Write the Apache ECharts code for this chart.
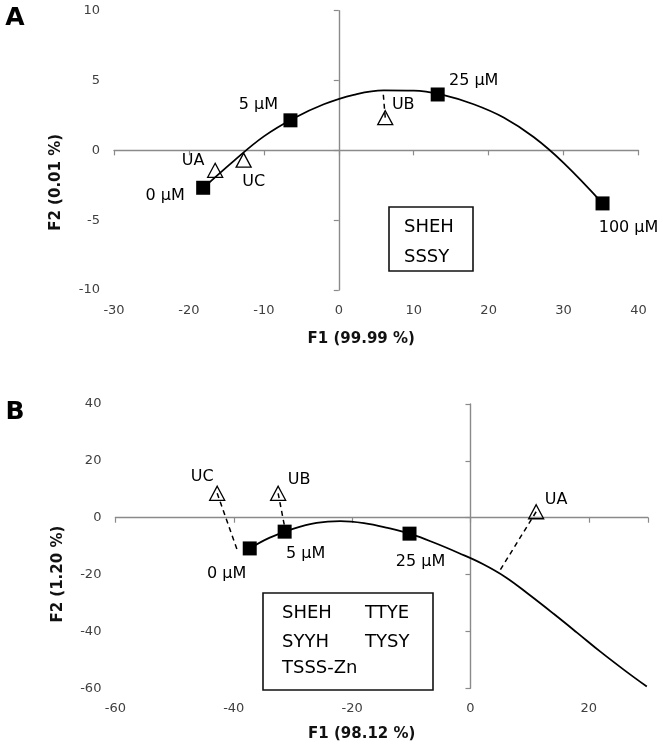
<!DOCTYPE html>
<html>
<head>
<meta charset="utf-8">
<script src="https://cdn.jsdelivr.net/npm/echarts@6/dist/echarts.min.js"></script>
<style>html,body{margin:0;padding:0;background:#fff}#c{width:663px;height:750px}</style>
</head>
<body>
<div id="c"></div>
<script>
// ---------- Panel A data ----------
const aSquareNames = ['0 µM', '5 µM', '25 µM', '100 µM'];
const aSquareX = [-18.1, -6.45, 13.2, 35.2];
const aSquareY = [-2.68, 2.15, 4.0, -3.8];
const aTriNames = ['UA', 'UB', 'UC'];
const aTriX = [-16.5, 6.2, -12.7];
const aTriY = [-1.43, 2.34, -0.7];
const aCurveX = [-18.1, -14, -10, -6, -2, 2, 6, 10, 14, 18, 22, 26, 30, 35.2];
const aCurveY = [-2.7, -0.75, 1.0, 2.3, 3.3, 3.98, 4.3, 4.28, 3.95, 3.3, 2.35, 0.95, -0.9, -3.8];
const aDrops = [[[6.2,2.34],[5.9,4.28]]];
const aLegend = [['SHEH'], ['SSSY']];
const aXTitle = 'F1 (99.99 %)';
const aYTitle = 'F2 (0.01 %)';

// ---------- Panel B data ----------
const bSquareNames = ['0 µM', '5 µM', '25 µM'];
const bSquareX = [-37.3, -31.4, -10.3];
const bSquareY = [-10.8, -4.9, -5.6];
const bTriNames = ['UC', 'UB', 'UA'];
const bTriX = [-42.8, -32.5, 11.1];
const bTriY = [8.6, 8.6, 2.1];
const bCurveX = [-37.3, -34, -30, -26, -22, -18, -14, -10, -6, -2, 2, 6, 10, 14, 18, 22, 26, 29.8];
const bCurveY = [-10.8, -7.1, -3.9, -1.8, -1.2, -1.9, -3.6, -5.8, -8.9, -12.4, -16.2, -21.0, -27.2, -33.7, -40.4, -47.2, -53.6, -59.4];
const bDrops = [[[-42.8,8.6],[-39.3,-12.0]], [[-32.5,8.6],[-31.4,-3.2]], [[11.1,2.1],[4.9,-18.8]]];
const bLegend = [['SHEH','TTYE'], ['SYYH','TYSY'], ['TSSS-Zn']];
const bXTitle = 'F1 (98.12 %)';
const bYTitle = 'F2 (1.20 %)';

// ---------- layout / style ----------
const FONT = 'DejaVu Sans';
const AXIS_COLOR = '#8a8a8a';
const aSquareOffsets = [[-38, 8], [-32, -15], [36, -14], [26, 24]];
const aTriOffsets = [[-22, -9], [18, -13], [10, 22]];
const bSquareOffsets = [[-23, 25], [21, 22], [11, 28]];
const bTriOffsets = [[-15, -16], [21, -13], [20, -12]];

function zip(xs, ys) { return xs.map((x, i) => [x, ys[i]]); }

function pts(xs, ys, names, offs) {
  return xs.map((x, i) => ({
    value: [x, ys[i]], name: names[i],
    label: { show: true, position: 'inside', offset: offs[i], formatter: names[i],
             color: '#000', fontFamily: FONT, fontSize: 16 }
  }));
}

function axesFor(gi, min, max, interval, yIdx, xIdx) {
  return {
    xLine: {
      gridIndex: gi, type: 'value', min: min[0], max: max[0], interval: interval[0], position: 'bottom',
      axisLine: { show: true, onZero: true, onZeroAxisIndex: yIdx, lineStyle: { color: AXIS_COLOR, width: 1.4 } },
      axisTick: { show: true, length: 5, lineStyle: { color: AXIS_COLOR, width: 1.2 } },
      axisLabel: { show: false }, splitLine: { show: false }
    },
    yLine: {
      gridIndex: gi, type: 'value', min: min[1], max: max[1], interval: interval[1], position: 'left',
      axisLine: { show: true, onZero: true, onZeroAxisIndex: xIdx, lineStyle: { color: AXIS_COLOR, width: 1.4 } },
      axisTick: { show: true, length: 5, lineStyle: { color: AXIS_COLOR, width: 1.2 } },
      axisLabel: { show: false }, splitLine: { show: false }
    }
  };
}

function labelXAxis(gi, min, max, interval, name, gap, pad) {
  return {
    gridIndex: gi, type: 'value', min, max, interval, position: 'bottom',
    axisLine: { show: false, onZero: false }, axisTick: { show: false }, splitLine: { show: false },
    axisLabel: { show: true, margin: 14, color: '#404040', fontFamily: FONT, fontSize: 13, showMaxLabel: max % interval === 0 },
    name, nameLocation: 'middle', nameGap: gap,
    nameTextStyle: { fontFamily: FONT, fontWeight: 'bold', fontSize: 15, color: '#111', padding: pad }
  };
}
function labelYAxis(gi, min, max, interval, name, gap, pad) {
  return {
    gridIndex: gi, type: 'value', min, max, interval, position: 'left',
    axisLine: { show: false, onZero: false }, axisTick: { show: false }, splitLine: { show: false },
    axisLabel: { show: true, margin: 14, color: '#404040', fontFamily: FONT, fontSize: 13 },
    name, nameLocation: 'middle', nameGap: gap,
    nameTextStyle: { fontFamily: FONT, fontWeight: 'bold', fontSize: 15, color: '#111', padding: pad }
  };
}

const A = axesFor(0, [-30, -10], [40, 10], [10, 5], 0, 0);
const B = axesFor(1, [-60, -60], [30, 40], [20, 20], 2, 2);

const xAxis = [A.xLine, labelXAxis(0, -30, 40, 10, aXTitle, 42, [0, 30, 0, 0]),
               B.xLine, labelXAxis(1, -60, 30, 20, bXTitle, 38, [0, 40, 0, 0])];
const yAxis = [A.yLine, labelYAxis(0, -10, 10, 5, aYTitle, 50, [0, 64, 0, 0]),
               B.yLine, labelYAxis(1, -60, 40, 20, bYTitle, 50, [0, 56, 0, 0])];

function panelSeries(xi, yi, curve, drops, sx, sy, sn, so, tx, ty, tn, to) {
  const s = [];
  s.push({ type: 'line', xAxisIndex: xi, yAxisIndex: yi, data: curve, smooth: 0.4, symbol: 'none',
           lineStyle: { color: '#000', width: 1.8 }, z: 2 });
  drops.forEach(d => s.push({ type: 'line', xAxisIndex: xi, yAxisIndex: yi, data: d, symbol: 'none',
           lineStyle: { color: '#000', width: 1.5, type: [5, 4] }, z: 2 }));
  s.push({ type: 'scatter', xAxisIndex: xi, yAxisIndex: yi, symbol: 'rect', symbolSize: 14,
           itemStyle: { color: '#000', opacity: 1 }, data: pts(sx, sy, sn, so), z: 4 });
  s.push({ type: 'scatter', xAxisIndex: xi, yAxisIndex: yi, symbol: 'triangle', symbolSize: [15, 14],
           itemStyle: { color: 'rgba(0,0,0,0)', borderColor: '#000', borderWidth: 1.3, opacity: 1 },
           data: pts(tx, ty, tn, to), z: 4 });
  return s;
}

const series = [
  ...panelSeries(0, 0, zip(aCurveX, aCurveY), aDrops, aSquareX, aSquareY, aSquareNames, aSquareOffsets, aTriX, aTriY, aTriNames, aTriOffsets),
  ...panelSeries(2, 2, zip(bCurveX, bCurveY), bDrops, bSquareX, bSquareY, bSquareNames, bSquareOffsets, bTriX, bTriY, bTriNames, bTriOffsets)
];

function legendBox(x, y, w, h, rows, textX, rowY, colX) {
  const children = [{ type: 'rect', shape: { x, y, width: w, height: h },
                      style: { fill: '#fff', stroke: '#111', lineWidth: 1.6 } }];
  rows.forEach((row, r) => row.forEach((t, c) => children.push({
    type: 'text', x: textX + c * colX, y: rowY[r],
    style: { text: t, fill: '#000', font: '18px "' + FONT + '"', textAlign: 'left', textVerticalAlign: 'middle' }
  })));
  return children;
}

const graphic = [
  { type: 'text', x: 15, y: 18, style: { text: 'A', fill: '#000', font: 'bold 25px "' + FONT + '"', textAlign: 'center', textVerticalAlign: 'middle' } },
  { type: 'text', x: 15, y: 412, style: { text: 'B', fill: '#000', font: 'bold 25px "' + FONT + '"', textAlign: 'center', textVerticalAlign: 'middle' } },
  ...legendBox(389, 207, 84, 64, aLegend, 404, [227, 257], 0),
  ...legendBox(263, 593, 170, 97, bLegend, 282, [613, 642, 668], 83)
];

const chart = echarts.init(document.getElementById('c'), null, { renderer: 'canvas' });
chart.setOption({
  animation: false,
  backgroundColor: '#fff',
  grid: [
    { left: 114, top: 10.7, width: 524.5, height: 279.3 },
    { left: 115.4, top: 404, width: 532.6, height: 284.3 }
  ],
  xAxis, yAxis, series, graphic
});
</script>
</body>
</html>
